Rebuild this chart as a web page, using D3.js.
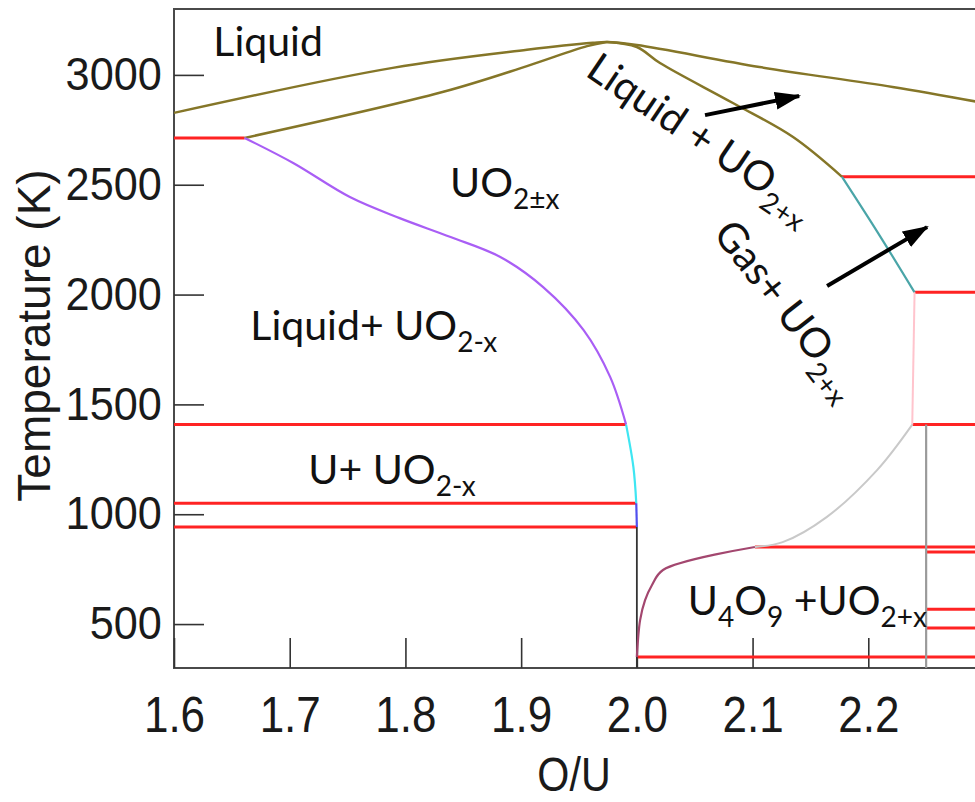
<!DOCTYPE html>
<html>
<head>
<meta charset="utf-8">
<script src="https://cdn.jsdelivr.net/npm/d3@7"></script>
<style>
  html, body { margin: 0; padding: 0; background: #fff; }
  svg { display: block; }
  .lbl { font-family: Lato, "Open Sans", sans-serif; fill: #111; white-space: pre; }
  .tick text { font-family: "Liberation Sans", Arial, sans-serif; fill: #1a1a1a; }
</style>
</head>
<body>
<svg id="chart" width="975" height="802"></svg>
<script>
// U–O phase diagram near UO2: O/U ratio vs temperature (K)

// axis ticks
const xTicks = [1.6, 1.7, 1.8, 1.9, 2.0, 2.1, 2.2];
const yTicks = [500, 1000, 1500, 2000, 2500, 3000];

// phase boundaries, each as [O/U, T]
const liquidusUpper = [[1.6, 2827], [1.789, 3032], [1.905, 3114], [1.962, 3146], [1.974, 3150],
                       [2.0, 3136], [2.106, 3036], [2.221, 2945], [2.3, 2872]];
const liquidusLowerLeft = [[1.661, 2713], [1.832, 2922], [1.905, 3040], [1.957, 3131], [1.974, 3150]];
const solidusRight = [[1.974, 3150], [2.0, 3127], [2.020, 3054], [2.083, 2872], [2.135, 2717], [2.1773, 2536]];
const hypoBoundaryHigh = [[1.661, 2713], [1.703, 2599], [1.752, 2444], [1.795, 2348], [1.839, 2262],
                          [1.882, 2171], [1.919, 2034], [1.954, 1838], [1.977, 1624], [1.9907, 1408]];
const hypoBoundaryMid = [[1.9907, 1408], [1.997, 1215], [1.9995, 1050]];
const hypoBoundaryLow = [[1.9995, 1050], [2.0, 942]];
const stoichLine = [[2.0, 942], [2.0, 300]];
const gasBoundary = [[2.1773, 2536], [2.2085, 2280], [2.240, 2010]];
const hyperBoundaryHigh = [[2.240, 2010], [2.238, 1408]];
const hyperBoundaryMid = [[2.238, 1408], [2.2076, 1201], [2.164, 987], [2.126, 873], [2.102, 851]];
const u4o9Boundary = [[2.102, 851], [2.0226, 746], [2.0131, 678], [2.0071, 609], [2.0028, 518], [2.0, 350]];
const u4o9Line = [[2.25, 1408], [2.25, 300]];

// isotherms: temperature, O/U start, O/U end
const isoT  = [2713, 1408, 1050, 942, 2536, 2010, 1408, 851, 828, 568, 482, 350];
const isoX0 = [1.6, 1.6, 1.6, 1.6, 2.1773, 2.240, 2.238, 2.102, 2.25, 2.25, 2.25, 2.0];
const isoX1 = [1.661, 1.9907, 1.9995, 2.0, 2.3, 2.3, 2.3, 2.3, 2.3, 2.3, 2.3, 2.3];

// region labels: text pieces ([text, isSubscript]), anchor [O/U, T], rotation
const labelText = [
  [["Liquid", 0]],
  [["UO", 0], ["2±x", 1]],
  [["Liquid+ UO", 0], ["2-x", 1]],
  [["U+ UO", 0], ["2-x", 1]],
  [["U", 0], ["4", 1], ["O", 0], ["9", 1], [" +UO", 0], ["2+x", 1]],
  [["Liquid + UO", 0], ["2+x", 1]],
  [["Gas+ UO", 0], ["2+x", 1]]
];
const labelAt = [[1.634, 3085], [1.8385, 2444], [1.666, 1793], [1.716, 1137], [2.044, 541], [1.9544, 2999], [2.065, 2275]];
const labelAngle = [0, 0, 0, 0, 0, 34, 52];

// annotation arrows: from [O/U, T] to [O/U, T]
const arrowFrom = [[2.0589, 2817], [2.1644, 2039]];
const arrowTo   = [[2.1402, 2904], [2.2508, 2307]];

const svg = d3.select("#chart");
const x = d3.scaleLinear().domain([1.6, 2.3]).range([174, 984]);
const y = d3.scaleLinear().domain([300, 3300]).range([668, 9]);

const line = d3.line().x(d => x(d[0])).y(d => y(d[1])).curve(d3.curveCatmullRom.alpha(0.5));
const straight = d3.line().x(d => x(d[0])).y(d => y(d[1]));

// frame
svg.append("rect")
  .attr("x", x(1.6)).attr("y", y(3300))
  .attr("width", x(2.3) - x(1.6)).attr("height", y(300) - y(3300))
  .attr("fill", "none").attr("stroke", "#4a4a4a").attr("stroke-width", 2);

// axes with inward ticks
const xAxis = svg.append("g").attr("transform", `translate(0,${y(300)})`)
  .call(d3.axisBottom(x).tickValues(xTicks).tickFormat(d3.format(".1f"))
    .tickSizeInner(-30).tickSizeOuter(0).tickPadding(29));
xAxis.select(".domain").remove();
xAxis.selectAll(".tick line").attr("stroke", "#333").attr("stroke-width", 1.6);
xAxis.selectAll(".tick text").attr("font-size", 50).attr("transform", "scale(0.88,1)");

const yAxis = svg.append("g").attr("transform", `translate(${x(1.6)},0)`)
  .call(d3.axisLeft(y).tickValues(yTicks).tickFormat(d3.format("d"))
    .tickSizeInner(-30).tickSizeOuter(0).tickPadding(13));
yAxis.select(".domain").remove();
yAxis.selectAll(".tick line").attr("stroke", "#333").attr("stroke-width", 1.6);
yAxis.selectAll(".tick text").attr("font-size", 46).attr("transform", "scale(0.94,1)");

// axis titles
svg.append("text")
  .attr("transform", `translate(${(x(1.6) + x(2.3)) / 2 - 5},791) scale(0.86,1)`)
  .attr("text-anchor", "middle")
  .attr("font-family", "'Liberation Sans', Arial, sans-serif").attr("font-size", 48).attr("fill", "#1a1a1a")
  .text("O/U");
svg.append("text")
  .attr("transform", `translate(50,${(y(300) + y(3300)) / 2 - 3}) rotate(-90)`)
  .attr("text-anchor", "middle")
  .attr("font-family", "'Liberation Sans', Arial, sans-serif").attr("font-size", 46).attr("fill", "#1a1a1a")
  .text("Temperature (K)");

// phase boundaries
const curves = [
  [liquidusUpper, "#857628", 2.5, line],
  [liquidusLowerLeft, "#857628", 2.5, line],
  [solidusRight, "#857628", 2.5, line],
  [stoichLine, "#333", 1.8, straight],
  [u4o9Line, "#9a9a9a", 2.2, straight],
  [hypoBoundaryHigh, "#a95ef5", 2.2, line],
  [hypoBoundaryMid, "#3fe6f2", 2.2, line],
  [hypoBoundaryLow, "#5050ee", 2.2, straight],
  [gasBoundary, "#4aa5a8", 2.2, line],
  [hyperBoundaryHigh, "#ffc4cd", 2, straight],
  [hyperBoundaryMid, "#c9c9c9", 2, line],
  [u4o9Boundary, "#a3476f", 2.2, line]
];

// isotherms drawn first so the boundaries sit on top of them
svg.append("g").selectAll("line").data(isoT).join("line")
  .attr("x1", (d, i) => x(isoX0[i])).attr("x2", (d, i) => x(isoX1[i]))
  .attr("y1", d => y(d)).attr("y2", d => y(d))
  .attr("stroke", "#ff2323").attr("stroke-width", 3);

svg.append("g").selectAll("path").data(curves).join("path")
  .attr("d", d => d[3](d[0]))
  .attr("fill", "none").attr("stroke", d => d[1]).attr("stroke-width", d => d[2])
  .attr("stroke-linejoin", "round");

// region labels
const SUB = 28, SHIFT = 12;
labelText.forEach((parts, i) => {
  const t = svg.append("text").attr("class", "lbl").attr("font-size", 41)
    .attr("transform", `translate(${x(labelAt[i][0])},${y(labelAt[i][1])}) rotate(${labelAngle[i]})`);
  let down = false;
  parts.forEach(([s, sub]) => {
    const ts = t.append("tspan").text(s);
    if (sub) { ts.attr("font-size", SUB); if (!down) ts.attr("dy", SHIFT); down = true; }
    else if (down) { ts.attr("dy", -SHIFT); down = false; }
  });
});

// arrows
svg.append("defs").append("marker")
  .attr("id", "head").attr("markerUnits", "userSpaceOnUse")
  .attr("markerWidth", 28).attr("markerHeight", 20)
  .attr("refX", 24).attr("refY", 9).attr("orient", "auto")
  .append("path").attr("d", "M0,0 L26,9 L0,18 Z").attr("fill", "#000");

svg.append("g").selectAll("line").data(arrowFrom).join("line")
  .attr("x1", d => x(d[0])).attr("y1", d => y(d[1]))
  .attr("x2", (d, i) => x(arrowTo[i][0])).attr("y2", (d, i) => y(arrowTo[i][1]))
  .attr("stroke", "#000").attr("stroke-width", 4)
  .attr("marker-end", "url(#head)");
</script>
</body>
</html>
